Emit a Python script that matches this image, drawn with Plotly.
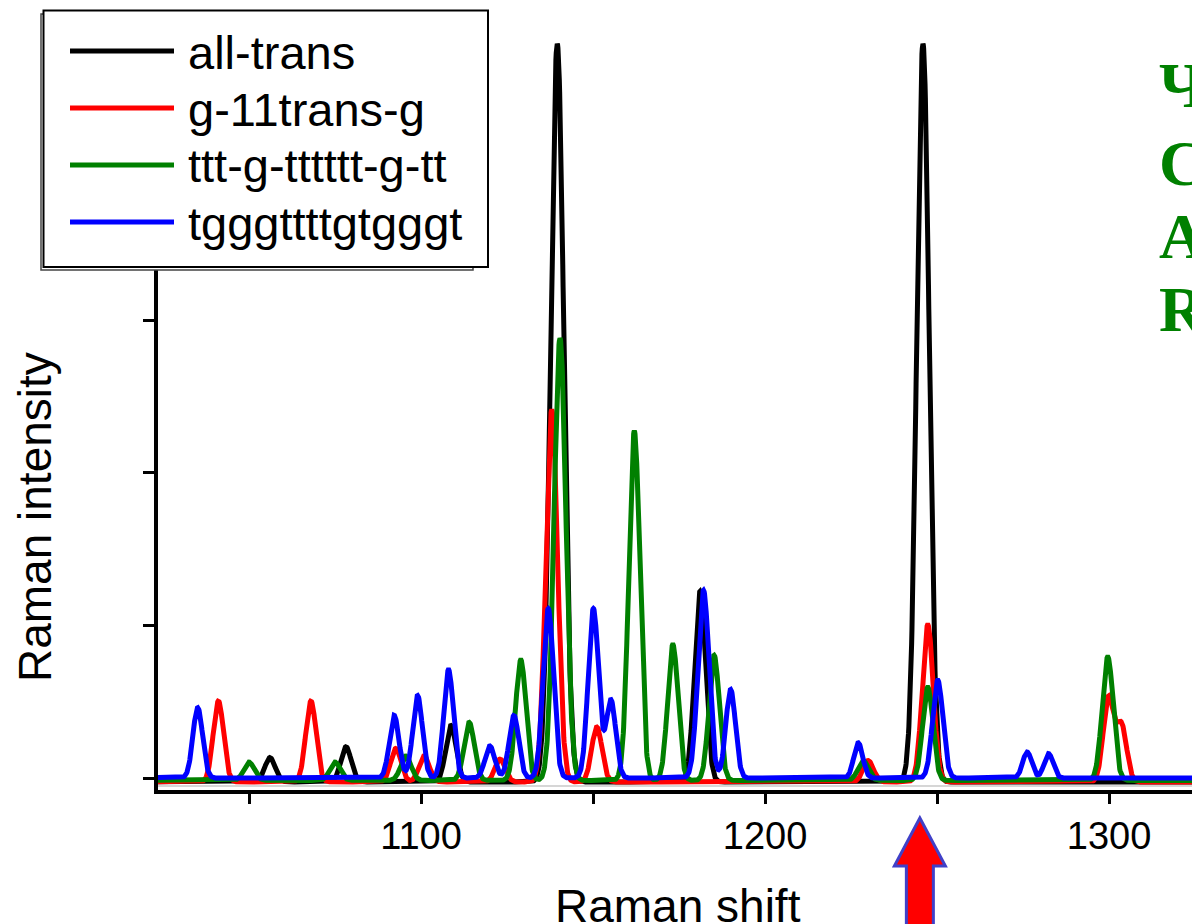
import numpy as np
import plotly.graph_objects as go

# ---------------- data ----------------
SERIES = ["all-trans", "g-11trans-g", "ttt-g-tttttt-g-tt", "tgggttttgtgggt"]
COLORS = ["#000000", "#ff0000", "#008000", "#0000ff"]

# peak positions (Raman shift), intensities and gaussian widths per conformer
black_pos = [1056.1, 1078.2, 1108.7, 1139.6, 1181.1, 1245.9]
black_int = [0.16, 0.23, 0.37, 4.84, 1.25, 4.84]
black_wid = [1.5, 1.5, 1.5, 1.9, 1.6, 1.8]

red_pos = [1041.1, 1068.0, 1092.7, 1100.9, 1123.0, 1138.0, 1151.1, 1230.0, 1247.3, 1299.8, 1303.6]
red_int = [0.53, 0.53, 0.22, 0.17, 0.15, 2.44, 0.36, 0.14, 1.03, 0.55, 0.37]
red_wid = [1.5, 1.5, 1.5, 1.5, 1.5, 1.7, 1.5, 1.5, 1.6, 1.5, 1.5]

green_pos = [1050.0, 1075.0, 1095.6, 1114.0, 1129.0, 1140.4, 1162.0, 1173.2, 1185.2, 1228.5, 1247.3, 1299.6]
green_int = [0.12, 0.12, 0.16, 0.38, 0.79, 2.90, 2.29, 0.89, 0.82, 0.13, 0.61, 0.81]
green_wid = [1.5, 1.5, 1.5, 1.5, 1.5, 1.7, 1.6, 1.5, 1.5, 1.5, 1.5, 1.6]

blue_pos = [1035.1, 1092.2, 1099.0, 1108.0, 1120.0, 1127.0, 1137.0, 1150.1, 1155.2,
            1182.1, 1190.0, 1227.1, 1250.2, 1276.2, 1282.4]
blue_int = [0.46, 0.41, 0.54, 0.71, 0.21, 0.41, 1.11, 1.11, 0.51, 1.23, 0.58, 0.23, 0.64, 0.17, 0.16]
blue_wid = [1.4, 1.4, 1.4, 1.4, 1.4, 1.4, 1.5, 1.5, 1.4, 1.6, 1.4, 1.3, 1.5, 1.3, 1.3]

BASELINES = [-0.026, -0.026, -0.016, 0.0]

X_TICKS = [1050, 1100, 1150, 1200, 1250, 1300]
X_TICKTEXT = ["", "1100", "", "1200", "", "1300"]
X_RANGE = [1023.55, 1324.1]
Y_RANGE = [-0.0787, 5.036]
ARROW_AT = 1245.0
SIDE_TEXT = ["Ч", "C", "A", "R"]

PEAKS = [
    (black_pos, black_int, black_wid),
    (red_pos, red_int, red_wid),
    (green_pos, green_int, green_wid),
    (blue_pos, blue_int, blue_wid),
]

# ---------------- figure ----------------
W, H = 1192, 924
L, R, T, B = 158, 0, 10, 134
PW, PH = W - L - R, H - T - B


def px(xp):
    return (xp - L) / PW


def py(yp):
    return (H - B - yp) / PH


xs = np.arange(1018.0, 1330.0, 0.1)
fig = go.Figure()
for name, color, base, (pos, amp, wid) in zip(SERIES, COLORS, BASELINES, PEAKS):
    y = np.full_like(xs, base)
    for p, a, w in zip(pos, amp, wid):
        y += a * np.exp(-0.5 * ((xs - p) / w) ** 2)
    fig.add_trace(go.Scatter(x=xs, y=y, mode="lines", name=name,
                             line=dict(color=color, width=5), showlegend=False))

FONT = "Arial, Liberation Sans, sans-serif"

fig.update_layout(
    width=W, height=H,
    margin=dict(l=L, r=R, t=T, b=B, pad=0),
    paper_bgcolor="white", plot_bgcolor="white",
    xaxis=dict(range=X_RANGE, tickvals=X_TICKS, ticktext=X_TICKTEXT,
               ticks="outside", ticklen=10, tickwidth=3, tickcolor="black",
               showline=True, linecolor="black", linewidth=3.5,
               showgrid=False, zeroline=False,
               tickfont=dict(family=FONT, size=38, color="black")),
    yaxis=dict(range=Y_RANGE, dtick=1, tick0=0, ticks="outside", ticklen=11,
               tickwidth=3, tickcolor="black", showticklabels=False,
               showline=True, linecolor="black", linewidth=3.5,
               showgrid=False, zeroline=False),
)

shapes = []
# faint shadow line under the spectra
shapes.append(dict(type="line", xref="paper", yref="paper", x0=0, x1=1,
                   y0=py(786), y1=py(786), line=dict(color="#c8c8c8", width=1.5),
                   layer="below"))
# legend box (shadow + box)
shapes.append(dict(type="rect", xref="paper", yref="paper",
                   x0=px(41), x1=px(473), y0=py(270), y1=py(14),
                   line=dict(color="#444444", width=1.5), fillcolor="white", layer="above"))
shapes.append(dict(type="rect", xref="paper", yref="paper",
                   x0=px(43.5), x1=px(488), y0=py(267), y1=py(10.5),
                   line=dict(color="black", width=2), fillcolor="white", layer="above"))
annotations = []
legend_y = [51, 108, 165, 222]
for name, color, ly in zip(SERIES, COLORS, legend_y):
    shapes.append(dict(type="line", xref="paper", yref="paper",
                       x0=px(70), x1=px(174), y0=py(ly), y1=py(ly),
                       line=dict(color=color, width=5), layer="above"))
    annotations.append(dict(xref="paper", yref="paper", x=px(186), y=py(ly + 1),
                            xanchor="left", yanchor="middle", showarrow=False,
                            text=name, font=dict(family=FONT, size=47, color="black")))

# red arrow with blue outline under the 1245 peak
ppu = PW / (X_RANGE[1] - X_RANGE[0])  # pixels per data unit
hw, sw = 25.5 / ppu, 13.5 / ppu
tip, hb, bot = py(818), py(866), py(935)
a = ARROW_AT
path = (f"M {a},{tip} L {a + hw},{hb} L {a + sw},{hb} L {a + sw},{bot} "
        f"L {a - sw},{bot} L {a - sw},{hb} L {a - hw},{hb} Z")
shapes.append(dict(type="path", xref="x", yref="paper", path=path,
                   fillcolor="#ff0000", line=dict(color="#4040c8", width=3), layer="above"))

# axis titles
annotations.append(dict(xref="paper", yref="paper", x=px(678), y=py(906),
                        xanchor="center", yanchor="middle", showarrow=False,
                        text="Raman shift", font=dict(family=FONT, size=46, color="black")))
annotations.append(dict(xref="paper", yref="paper", x=px(35), y=py(517),
                        xanchor="center", yanchor="middle", showarrow=False, textangle=-90,
                        text="Raman intensity", font=dict(family=FONT, size=46, color="black")))

# green side text (cut at the right edge, as in the reference)
for ch, cy in zip(SIDE_TEXT, [86, 164, 237, 309]):
    annotations.append(dict(xref="paper", yref="paper", x=px(1157), y=py(cy),
                            xanchor="left", yanchor="middle", showarrow=False,
                            text=f"<b>{ch}</b>",
                            font=dict(family="Liberation Serif, Times New Roman, serif",
                                      size=64, color="#008000")))

fig.update_layout(shapes=shapes, annotations=annotations)
fig.write_html("out.html")
